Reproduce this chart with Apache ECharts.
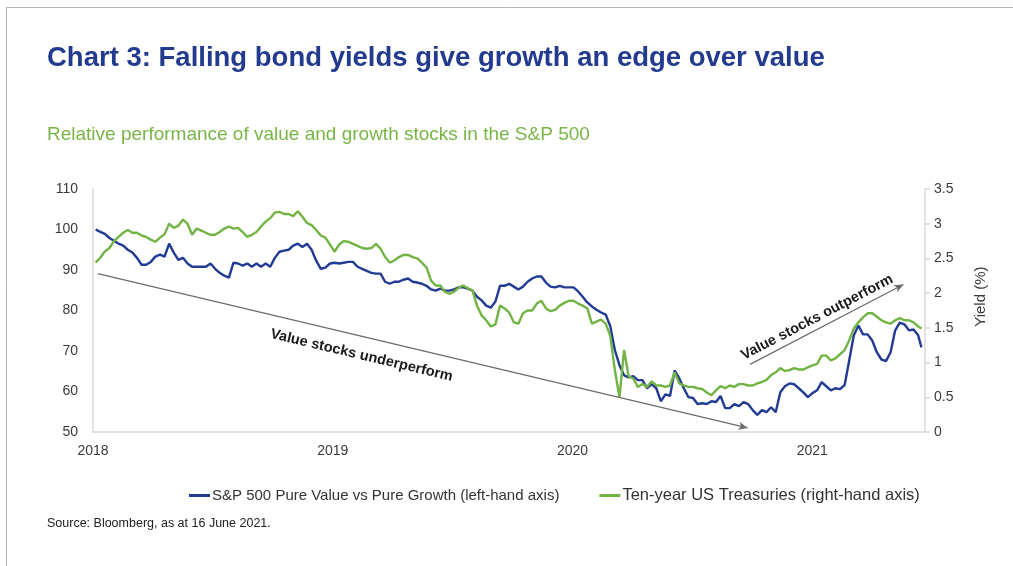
<!DOCTYPE html>
<html>
<head>
<meta charset="utf-8">
<title>Chart 3: Falling bond yields give growth an edge over value</title>
<script src="https://cdn.jsdelivr.net/npm/echarts@6/dist/echarts.min.js"></script>
<style>
  html, body { margin: 0; padding: 0; background: #ffffff; }
  #chart { width: 1013px; height: 566px; }
</style>
</head>
<body>
<div id="chart"></div>
<script>
// Weekly closes (Fridays) from 5 Jan 2018, plus the last reading on 16 June 2021.
const firstWeek = '2018-01-05';
const lastDate = '2021-06-16';

// S&P 500 Pure Value vs Pure Growth, rebased (left-hand axis)
const valueVsGrowth = [
  100.0, 99.4, 98.9, 97.9, 97.2, 96.5, 96.0, 95.0, 94.3, 93.0,
  91.3, 91.3, 92.0, 93.3, 93.8, 93.3, 96.5, 94.3, 92.5, 93.0,
  91.6, 90.8, 90.8, 90.8, 90.8, 91.6, 90.3, 89.3, 88.6, 88.1,
  91.8, 91.6, 91.1, 91.6, 90.8, 91.6, 90.8, 91.6, 90.8, 93.0,
  94.5, 94.8, 95.0, 96.0, 96.5, 95.7, 96.5, 95.0, 92.3, 90.3,
  90.6, 91.6, 91.8, 91.6, 91.8, 92.0, 92.0, 90.8, 90.3, 89.8,
  89.3, 89.1, 89.1, 87.1, 86.6, 87.1, 87.1, 87.6, 87.9, 87.1,
  86.9, 86.6, 86.1, 85.2, 84.9, 85.4, 84.9, 84.9, 85.2, 85.7,
  85.7, 85.4, 84.9, 83.4, 82.5, 81.2, 80.7, 82.2, 86.1, 86.1,
  86.6, 85.9, 85.2, 85.9, 87.1, 87.9, 88.4, 88.4, 86.9, 85.9,
  85.7, 86.1, 85.7, 85.7, 85.7, 84.7, 83.4, 82.0, 81.0, 80.2,
  79.5, 79.0, 76.1, 70.2, 66.5, 64.0, 63.5, 63.8, 62.8, 62.8,
  60.8, 61.8, 60.8, 57.6, 59.3, 58.9, 65.2, 63.3, 60.8, 58.6,
  58.4, 56.9, 57.1, 56.9, 57.6, 57.4, 58.9, 55.9, 55.9, 56.9,
  56.4, 57.4, 56.9, 55.4, 54.2, 55.4, 54.9, 56.1, 54.9, 59.8,
  61.3, 62.0, 61.8, 60.8, 59.8, 58.6, 59.6, 60.3, 62.3, 61.3,
  60.3, 60.8, 60.6, 61.6, 67.7, 73.9, 76.3, 74.1, 74.1, 72.6,
  69.7, 67.9, 67.5, 69.7, 75.1, 77.0, 76.6, 75.1, 75.3, 73.9,
  70.9
];

// Ten-year US Treasury yield, % (right-hand axis)
const treasuryYield = [
  2.44, 2.51, 2.60, 2.65, 2.75, 2.81, 2.87, 2.91, 2.87, 2.87,
  2.83, 2.81, 2.77, 2.74, 2.80, 2.85, 3.00, 2.94, 2.97, 3.06,
  3.00, 2.84, 2.93, 2.90, 2.87, 2.84, 2.84, 2.88, 2.93, 2.96,
  2.93, 2.94, 2.88, 2.81, 2.84, 2.88, 2.96, 3.03, 3.08, 3.16,
  3.17, 3.14, 3.14, 3.11, 3.18, 3.10, 3.01, 2.98, 2.91, 2.83,
  2.80, 2.70, 2.60, 2.70, 2.75, 2.74, 2.71, 2.68, 2.65, 2.64,
  2.65, 2.71, 2.64, 2.52, 2.44, 2.47, 2.52, 2.55, 2.55, 2.52,
  2.50, 2.44, 2.37, 2.18, 2.11, 2.11, 2.02, 1.99, 2.02, 2.08,
  2.11, 2.07, 2.04, 1.82, 1.68, 1.61, 1.52, 1.55, 1.82, 1.78,
  1.72, 1.58, 1.56, 1.71, 1.75, 1.75, 1.85, 1.89, 1.78, 1.74,
  1.76, 1.82, 1.86, 1.89, 1.89, 1.85, 1.82, 1.78, 1.56, 1.59,
  1.62, 1.56, 1.38, 0.89, 0.50, 1.18, 0.80, 0.77, 0.65, 0.69,
  0.65, 0.73, 0.67, 0.67, 0.65, 0.67, 0.86, 0.70, 0.67, 0.65,
  0.65, 0.63, 0.62, 0.57, 0.53, 0.60, 0.66, 0.63, 0.67, 0.65,
  0.69, 0.69, 0.67, 0.67, 0.70, 0.72, 0.75, 0.82, 0.86, 0.92,
  0.88, 0.89, 0.92, 0.90, 0.90, 0.93, 0.96, 0.98, 1.10, 1.10,
  1.03, 1.06, 1.12, 1.18, 1.32, 1.49, 1.58, 1.65, 1.71, 1.71,
  1.66, 1.61, 1.58, 1.56, 1.61, 1.64, 1.61, 1.61, 1.58, 1.52,
  1.49
];

const yearLabels = ['2018', '2019', '2020', '2021'];
const leftTicks = { min: 50, max: 110, step: 10 };
const rightTicks = { min: 0, max: 3.5, step: 0.5 };

const seriesNames = [
  'S&P 500 Pure Value vs Pure Growth (left-hand axis)',
  'Ten-year US Treasuries (right-hand axis)'
];

// Trend arrows: [year, index level] endpoints on the left-hand scale
const underperformArrow = [[2018.02, 89.1], [2020.73, 51.0]];
const outperformArrow = [[2020.74, 66.7], [2021.38, 86.4]];
const underperformLabelAt = [2019.12, 68.9];
const outperformLabelAt = [2021.02, 78.3];

const DAY = 86400000;
const EPOCH = Date.UTC(2018, 0, 1);
const FONT = '"Liberation Sans", Arial, Helvetica, sans-serif';

function toYearFraction(ms) {
  return 2018 + (ms - EPOCH) / (365.25 * DAY);
}
function parseDay(s) {
  const p = s.split('-').map(Number);
  return Date.UTC(p[0], p[1] - 1, p[2]);
}

// x position of each observation: weekly, then the final day
const startMs = parseDay(firstWeek);
const xYears = valueVsGrowth.map((_, i) =>
  i < valueVsGrowth.length - 1 ? toYearFraction(startMs + i * 7 * DAY)
                               : toYearFraction(parseDay(lastDate)));

const bluePairs = valueVsGrowth.map((v, i) => [xYears[i], v]);
const greenPairs = treasuryYield.map((v, i) => [xYears[i], v]);

const BLUE = '#213b95';
const GREEN = '#71b443';
const AXIS_GREY = '#d9d9d9';
const LABEL = '#3a3a3a';

const chart = echarts.init(document.getElementById('chart'), null, { renderer: 'canvas' });

chart.setOption({
  animation: false,
  backgroundColor: '#ffffff',
  textStyle: { fontFamily: FONT },
  title: [
    {
      text: 'Chart 3: Falling bond yields give growth an edge over value',
      left: 47, top: 44, padding: 0,
      textStyle: { fontFamily: FONT, fontSize: 27.5, fontWeight: 'bold', color: '#233b8e' }
    },
    {
      text: 'Relative performance of value and growth stocks in the S&P 500',
      left: 47, top: 125, padding: 0,
      textStyle: { fontFamily: FONT, fontSize: 19, fontWeight: 'normal', color: '#78b446' }
    },
    {
      text: 'Source: Bloomberg, as at 16 June 2021.',
      left: 47, top: 517, padding: 0,
      textStyle: { fontFamily: FONT, fontSize: 12.5, fontWeight: 'normal', color: '#222222' }
    }
  ],
  legend: {
    left: 184, top: 482,
    itemGap: 40,
    itemWidth: 21, itemHeight: 3,
    icon: 'rect',
    textStyle: { fontFamily: FONT, fontSize: 15, color: '#333333', padding: [0, 0, 0, -3] },
    data: [
      { name: seriesNames[0] },
      { name: seriesNames[1], textStyle: { fontSize: 16.5 } }
    ]
  },
  grid: { left: 93, right: 88, top: 189, bottom: 134, containLabel: false },
  xAxis: {
    type: 'value',
    min: 2018, max: 2021.47, interval: 1,
    axisLine: { show: true, lineStyle: { color: AXIS_GREY, width: 1.5 } },
    axisTick: { show: false },
    splitLine: { show: false },
    axisLabel: {
      margin: 12, color: LABEL, fontSize: 14, fontFamily: FONT,
      showMaxLabel: false,
      formatter: v => yearLabels[Math.round(v) - 2018] || ''
    }
  },
  yAxis: [
    {
      type: 'value', position: 'left',
      min: leftTicks.min, max: leftTicks.max, interval: leftTicks.step,
      axisLine: { show: true, lineStyle: { color: AXIS_GREY, width: 1.5 } },
      axisTick: { show: false },
      splitLine: { show: false },
      axisLabel: { margin: 15, color: LABEL, fontSize: 14, fontFamily: FONT }
    },
    {
      type: 'value', position: 'right',
      min: rightTicks.min, max: rightTicks.max, interval: rightTicks.step,
      axisLine: { show: true, lineStyle: { color: AXIS_GREY, width: 1.5 } },
      axisTick: { show: true, inside: false, length: 5, lineStyle: { color: AXIS_GREY, width: 1.5 } },
      splitLine: { show: false },
      axisLabel: { margin: 9, color: LABEL, fontSize: 14, fontFamily: FONT }
    }
  ],
  series: [
    {
      name: seriesNames[0],
      type: 'line', yAxisIndex: 0,
      data: bluePairs,
      showSymbol: false, symbol: 'none',
      lineStyle: { color: BLUE, width: 2.4 },
      itemStyle: { color: BLUE },
      z: 3,
      markLine: {
        silent: true,
        symbol: ['none', 'arrow'],
        symbolSize: [6, 9],
        label: { show: false },
        lineStyle: { color: '#6b6b6b', width: 1.2, type: 'solid' },
        data: [
          [{ coord: underperformArrow[0] }, { coord: underperformArrow[1] }],
          [{ coord: outperformArrow[0] }, { coord: outperformArrow[1] }]
        ]
      }
    },
    {
      name: seriesNames[1],
      type: 'line', yAxisIndex: 1,
      data: greenPairs,
      showSymbol: false, symbol: 'none',
      lineStyle: { color: GREEN, width: 2.4 },
      itemStyle: { color: GREEN },
      z: 4
    }
  ]
});

// Rotated annotations that follow the two trend arrows
function toPx(pt) {
  return chart.convertToPixel({ xAxisIndex: 0, yAxisIndex: 0 }, pt);
}
function angleOf(seg) {
  const a = toPx(seg[0]), b = toPx(seg[1]);
  return -Math.atan2(b[1] - a[1], b[0] - a[0]);
}
function arrowText(text, at, seg) {
  const p = toPx(at);
  return {
    type: 'text',
    x: p[0], y: p[1],
    rotation: angleOf(seg),
    style: {
      text: text,
      fontFamily: FONT, fontSize: 14.5, fontWeight: 'bold',
      fill: '#1a1a1a',
      align: 'center', verticalAlign: 'middle'
    },
    z: 10
  };
}

// Right-hand axis title, centred a little above the middle of the scale
const yieldTitleAt = chart.convertToPixel({ yAxisIndex: 1 }, 1.95);

chart.setOption({
  graphic: [
    { type: 'line', shape: { x1: 6.5, y1: 7.5, x2: 1013, y2: 7.5 }, style: { stroke: '#b5b5b5', lineWidth: 1 } },
    { type: 'line', shape: { x1: 6.5, y1: 7.5, x2: 6.5, y2: 566 }, style: { stroke: '#b5b5b5', lineWidth: 1 } },
    {
      type: 'text', x: 981, y: yieldTitleAt, rotation: Math.PI / 2,
      style: {
        text: 'Yield (%)', fontFamily: FONT, fontSize: 15, fill: LABEL,
        align: 'center', verticalAlign: 'middle'
      }
    },
    arrowText('Value stocks underperform', underperformLabelAt, underperformArrow),
    arrowText('Value stocks outperform', outperformLabelAt, outperformArrow)
  ]
});
</script>
</body>
</html>
